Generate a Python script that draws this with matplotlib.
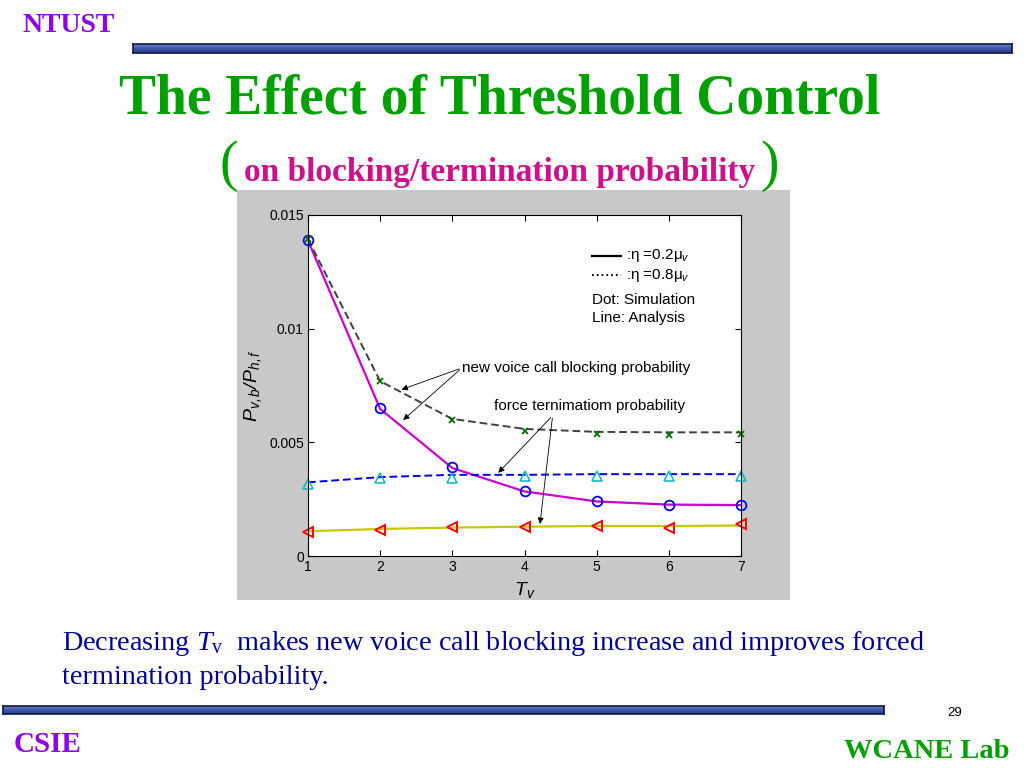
import numpy as np
import matplotlib.pyplot as plt
from matplotlib.lines import Line2D

plt.rcParams['mathtext.fontset'] = 'custom'
plt.rcParams['mathtext.rm'] = 'Liberation Serif'
plt.rcParams['mathtext.it'] = 'Liberation Serif:italic'
plt.rcParams['mathtext.sf'] = 'Liberation Sans:italic'

# threshold T_v
t_v = [1, 2, 3, 4, 5, 6, 7]

# eta = 0.2 mu_v : blocking probability (analysis / simulation)
block_02_ana = [0.01387, 0.00647, 0.00387, 0.00284, 0.00240, 0.00226, 0.00224]
block_02_sim = [0.01390, 0.00650, 0.00390, 0.00284, 0.00240, 0.00226, 0.00224]
# eta = 0.8 mu_v : blocking probability
block_08_ana = [0.01394, 0.00769, 0.00603, 0.00559, 0.00546, 0.00544, 0.00544]
block_08_sim = [0.01394, 0.00770, 0.00600, 0.00549, 0.00538, 0.00534, 0.00537]
# eta = 0.8 mu_v : forced termination probability
term_08_ana = [0.00324, 0.00347, 0.00357, 0.00357, 0.00360, 0.00360, 0.00360]
term_08_sim = [0.00316, 0.00341, 0.00344, 0.00350, 0.00354, 0.00353, 0.00351]
# eta = 0.2 mu_v : forced termination probability
term_02_ana = [0.00109, 0.00119, 0.00125, 0.00129, 0.00132, 0.00132, 0.00134]
term_02_sim = [0.00107, 0.00115, 0.00126, 0.00129, 0.00134, 0.00121, 0.00140]

y_ticks = [0, 0.005, 0.01, 0.015]
y_tick_labels = ['0', '0.005', '0.01', '0.015']

W, H = 1024, 768
fig = plt.figure(figsize=(W / 100, H / 100), dpi=100)
fig.patch.set_facecolor('white')


def fx(x):
    return x / W


def fy(y):
    return 1 - y / H


def bar(x0, x1, y0, y1):
    bax = fig.add_axes([fx(x0), fy(y1), fx(x1 - x0), (y1 - y0) / H])
    grad = np.linspace(0, 1, 20).reshape(-1, 1)
    bax.imshow(grad, aspect='auto', cmap=plt.matplotlib.colors.LinearSegmentedColormap.from_list(
        'b', ['#6f86c8', '#3f55a8', '#2c3f92']), extent=[0, 1, 0, 1])
    bax.set_xticks([])
    bax.set_yticks([])
    for s in bax.spines.values():
        s.set_color('#101840')
        s.set_linewidth(1.2)


serif = 'Liberation Serif'

# slide decoration
fig.text(fx(69), fy(25), 'NTUST', color='#8f00ee', family=serif, weight='bold',
         fontsize=20, ha='center', va='center')
bar(133, 1012, 44, 53)
fig.text(fx(500), fy(100), 'The Effect of Threshold Control', color='#00a000',
         family=serif, weight='bold', fontsize=40, ha='center', va='center')
fig.text(fx(229), fy(166), '(', color='#00a000', family=serif, fontsize=40,
         ha='center', va='center')
fig.text(fx(500), fy(173), 'on blocking/termination probability', color='#d0108a',
         family=serif, weight='bold', fontsize=24, ha='center', va='center')
fig.text(fx(770), fy(166), ')', color='#00a000', family=serif, fontsize=40,
         ha='center', va='center')

fig.text(fx(62), fy(643), r'Decreasing $T_{\mathrm{v}}$  makes new voice call blocking increase and improves forced',
         color='#000099', family=serif, fontsize=20.3, ha='left', va='center')
fig.text(fx(62), fy(678), 'termination probability.', color='#000099', family=serif,
         fontsize=20.3, ha='left', va='center')

bar(3, 884, 706, 714)
fig.text(fx(955), fy(713), '29', color='black', family='Liberation Sans',
         fontsize=9.5, ha='center', va='center')
fig.text(fx(14), fy(744), 'CSIE', color='#8f00ee', family=serif, weight='bold',
         fontsize=21, ha='left', va='center')
fig.text(fx(1010), fy(752), 'WCANE Lab', color='#00a000', family=serif, weight='bold',
         fontsize=20.5, ha='right', va='center')

# gray figure panel of the plot
panel = fig.add_axes([fx(237), fy(600), fx(553), 410 / H])
panel.set_facecolor('#c8c8c8')
panel.set_xticks([])
panel.set_yticks([])
for s in panel.spines.values():
    s.set_visible(False)

ax = fig.add_axes([fx(308), fy(556), fx(741 - 308), (556 - 215) / H])
ax.set_facecolor('white')

ax.plot(t_v, block_02_ana, '-', color='#cc00cc', lw=1.6)
ax.plot(t_v, block_08_ana, '--', color='#404040', lw=1.4, dashes=(4, 2))
ax.plot(t_v, term_08_ana, '--', color='#0000e0', lw=1.4, dashes=(4, 2))
ax.plot(t_v, term_02_ana, '-', color='#c8c800', lw=1.6)

ax.plot(t_v, block_02_sim, 'o', mfc='none', mec='#0000ff', ms=7, mew=1.3, clip_on=False)
ax.plot(t_v, block_08_sim, 'x', color='#007000', ms=4, mew=1.3, clip_on=False)
ax.plot(t_v, term_08_sim, '^', mfc='none', mec='#00b8c8', ms=7, mew=1.1, clip_on=False)
ax.plot(t_v, term_02_sim, '<', mfc='none', mec='#ff0000', ms=7, mew=1.4, clip_on=False)

ax.set_xlim(1, 7)
ax.set_ylim(0, 0.015)
ax.set_xticks(t_v)
ax.set_yticks(y_ticks)
ax.set_yticklabels(y_tick_labels)
ax.tick_params(direction='in', length=4, width=0.8, top=True, right=True,
               labelsize=10, pad=3, colors='black')
for lab in ax.get_xticklabels() + ax.get_yticklabels():
    lab.set_family('Liberation Sans')
for s in ax.spines.values():
    s.set_linewidth(0.8)

ax.set_xlabel(r'$\mathsf{T_v}$', fontsize=14, labelpad=4)
ax.set_ylabel(r'$\mathsf{P_{v,b}/P_{h,f}}$', fontsize=14, labelpad=4)

# legend-like notes
tr = ax.transAxes
ax.add_line(Line2D([0.655, 0.722], [0.881, 0.881], transform=tr, color='black', lw=1.6))
ax.add_line(Line2D([0.655, 0.722], [0.823, 0.823], transform=tr, color='black', lw=1.3, ls=':'))
sans = 'Liberation Sans'
fs = 11
ax.text(0.735, 0.881, r':η =0.2μ$_{\mathsf{v}}$', transform=tr, family=sans, fontsize=fs, va='center')
ax.text(0.735, 0.823, r':η =0.8μ$_{\mathsf{v}}$', transform=tr, family=sans, fontsize=fs, va='center')
ax.text(0.657, 0.750, 'Dot: Simulation', transform=tr, family=sans, fontsize=fs, va='center')
ax.text(0.657, 0.699, 'Line: Analysis', transform=tr, family=sans, fontsize=fs, va='center')

# arrows
arw = dict(arrowstyle='-|>', color='black', lw=0.6, mutation_scale=9)
ax.text(3.14, 0.00826, 'new voice call blocking probability', family=sans, fontsize=fs, va='center')
ax.annotate('', xy=(2.26, 0.00728), xytext=(3.13, 0.00827), arrowprops=arw)
ax.annotate('', xy=(2.29, 0.00590), xytext=(3.13, 0.00827), arrowprops=arw)
ax.text(3.58, 0.00659, 'force ternimatiom probability', family=sans, fontsize=fs, va='center')
ax.annotate('', xy=(3.61, 0.00357), xytext=(4.39, 0.00618), arrowprops=arw)
ax.annotate('', xy=(4.21, 0.00129), xytext=(4.39, 0.00618), arrowprops=arw)

fig.savefig('out.png', dpi=100)
